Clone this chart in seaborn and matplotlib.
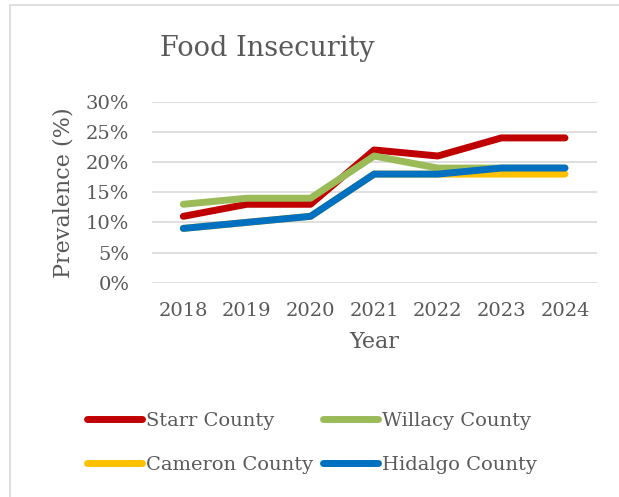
import matplotlib
matplotlib.use("Agg")
import matplotlib.pyplot as plt
import seaborn as sns
import pandas as pd
from matplotlib.patches import Rectangle
from matplotlib.ticker import PercentFormatter

years = ["2018", "2019", "2020", "2021", "2022", "2023", "2024"]
starr = [11, 13, 13, 22, 21, 24, 24]
willacy = [13, 14, 14, 21, 19, 19, 19]
cameron = [9, 10, 11, 18, 18, 18, 18]
hidalgo = [9, 10, 11, 18, 18, 19, 19]

series = {
    "Starr County": starr,
    "Willacy County": willacy,
    "Cameron County": cameron,
    "Hidalgo County": hidalgo,
}
colors = ["#C00000", "#9BBB59", "#FFC000", "#0070C0"]

rows = []
for name, vals in series.items():
    for i, (y, v) in enumerate(zip(years, vals)):
        rows.append({"idx": i, "Year": y, "County": name, "Value": v / 100})
df = pd.DataFrame(rows)

sns.set_style("white")
plt.rcParams["font.family"] = ["DejaVu Serif"]
text_color = "#595959"

fig = plt.figure(figsize=(6.19, 4.97), dpi=100)
W, H = 619, 497
ax = fig.add_axes([151.5 / W, 1 - 282.7 / H, (596.8 - 151.5) / W, (282.7 - 101.7) / H])

# outer chart frame
fig.patches.append(Rectangle((10 / W, -0.1), 1.2, 1 - 5 / H + 0.1, transform=fig.transFigure,
                             fill=False, edgecolor="#D9D9D9", linewidth=1.2))

sns.lineplot(data=df, x="idx", y="Value", hue="County", hue_order=list(series.keys()),
             palette=colors, linewidth=5, ax=ax, legend=False, sort=False)
for ln in ax.get_lines():
    ln.set_solid_capstyle("round")
    ln.set_solid_joinstyle("round")

ax.set_xlim(-0.5, len(years) - 0.5)
ax.set_ylim(0, 0.30)
ax.set_yticks([0, 0.05, 0.10, 0.15, 0.20, 0.25, 0.30])
ax.yaxis.set_major_formatter(PercentFormatter(1.0, decimals=0))
ax.set_xticks(range(len(years)))
ax.set_xticklabels(years)
ax.grid(axis="y", color="#D9D9D9", linewidth=1.2)
ax.set_axisbelow(True)
for s in ax.spines.values():
    s.set_visible(False)
ax.tick_params(axis="both", length=0, labelsize=14, labelcolor=text_color)
ax.tick_params(axis="y", pad=16)
ax.tick_params(axis="x", pad=14)

ax.set_xlabel("Year", fontsize=16, color=text_color, labelpad=8)
ax.set_ylabel("Prevalence (%)", fontsize=16, color=text_color, labelpad=8)

fig.text(267.5 / W, 1 - 48 / H, "Food Insecurity", ha="center", va="center",
         fontsize=19.5, color=text_color)

# legend filled row by row: Starr, Willacy / Cameron, Hidalgo
names = list(series.keys())
order = [0, 2, 1, 3]
handles = [plt.Line2D([], [], color=colors[i], linewidth=5, solid_capstyle="round") for i in order]
labels = [names[i] for i in order]
leg = fig.legend(handles, labels, ncol=2, loc="center",
                 bbox_to_anchor=(312 / W, 1 - 443 / H), frameon=False,
                 fontsize=14, handlelength=2.8, handletextpad=0.2,
                 columnspacing=0.55, labelspacing=1.35)
for t in leg.get_texts():
    t.set_color(text_color)

fig.savefig("out.png", dpi=100)
